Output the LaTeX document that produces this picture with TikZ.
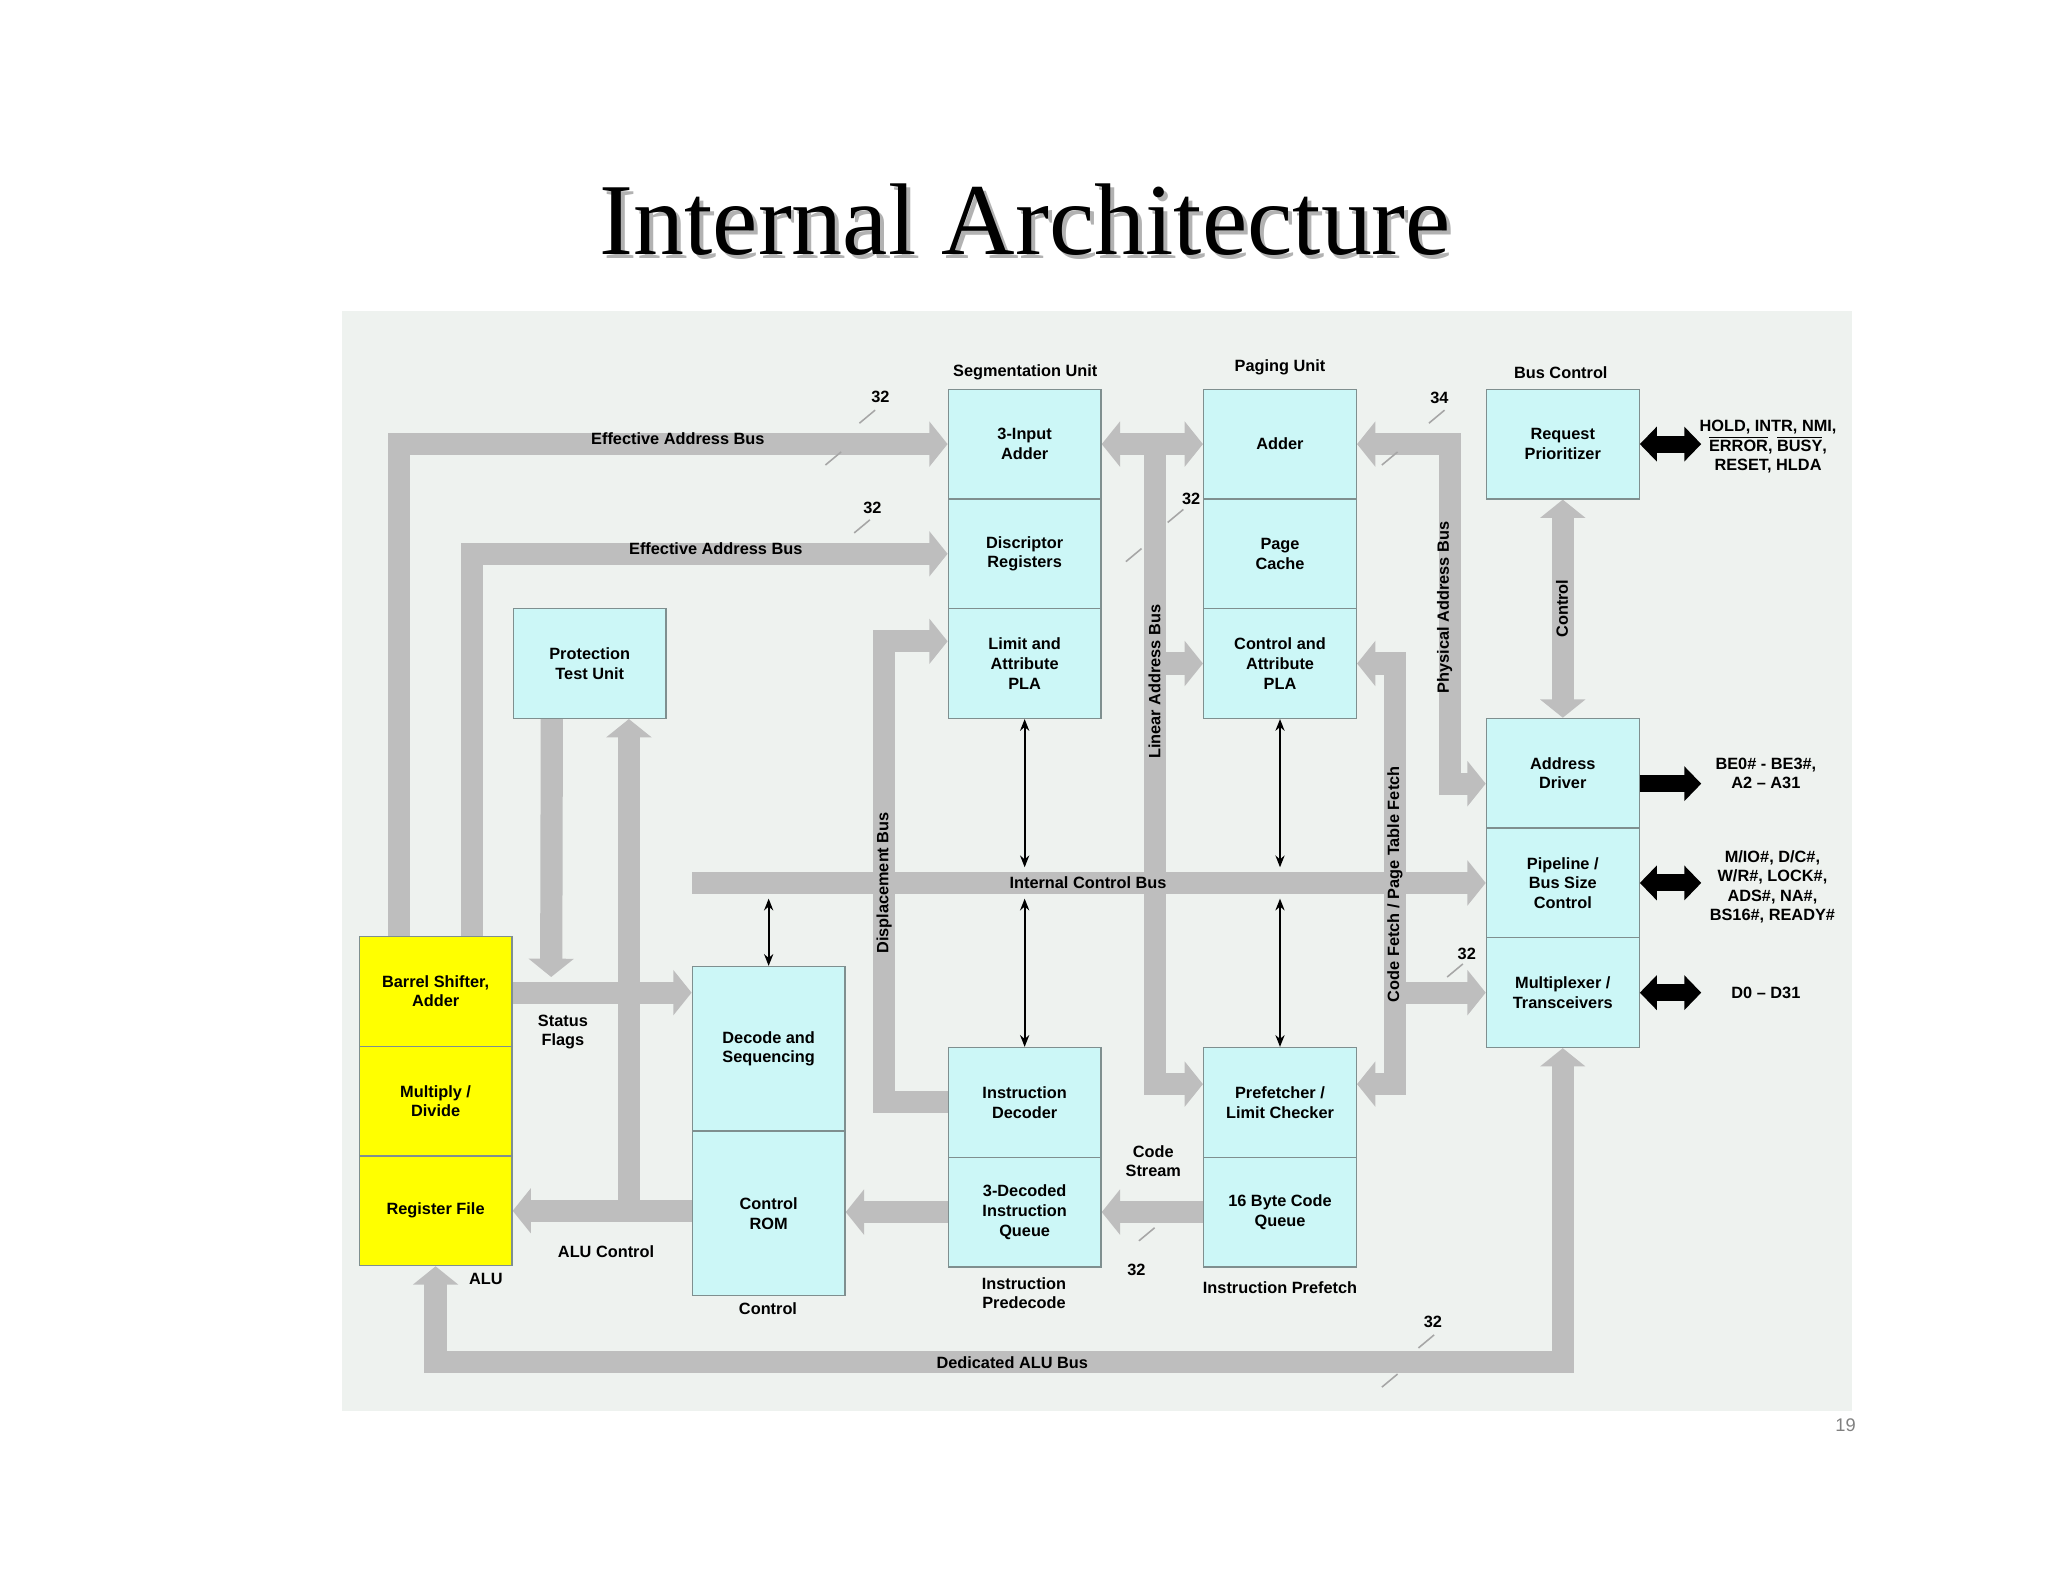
\documentclass[tikz,border=0pt]{standalone}
\usepackage{fontspec}
\setmainfont{Liberation Sans}
\newfontfamily\ser{Liberation Serif}
\usetikzlibrary{arrows.meta,calc}
\pgfdeclarelayer{back}\pgfdeclarelayer{bg}
\pgfsetlayers{back,bg,main}
\definecolor{panel}{HTML}{EEF2EF}
\definecolor{cyanbox}{HTML}{CCF7F7}
\definecolor{boxborder}{HTML}{7F8F8F}
\definecolor{busgray}{HTML}{BEBEBE}
\definecolor{yel}{HTML}{FFFF00}
\newcommand{\lab}{\fontsize{12.5}{15}\selectfont\bfseries}
\newcommand{\ovl}[1]{\leavevmode\vbox{\hrule height .9pt\kern1.2pt\hbox{#1}}}
\tikzset{
 T/.tip={Triangle[width=34pt,length=14pt]},
 B/.tip={Triangle[width=26pt,length=13pt]},
 bus/.style={line width=17pt,draw=busgray},
 cell/.style={draw=boxborder,fill=cyanbox,line width=1pt,minimum width=117pt,minimum height=84pt,align=center,inner sep=1pt,font=\lab},
 ycell/.style={cell,fill=yel},
 tcell/.style={cell,minimum height=126pt},
 lbl/.style={font=\lab,align=center,inner sep=1pt},
 rlbl/.style={lbl,rotate=90},
 thin/.style={line width=1.6pt,{Stealth[length=9pt,width=7pt]}-{Stealth[length=9pt,width=7pt]}},
 ext/.style={line width=13pt},
 slash/.style={draw=gray!70,line width=1.2pt},
}
\begin{document}
\begin{tikzpicture}[x=1pt,y=-1pt]
\useasboundingbox (0,0) rectangle (1568,1211);
\begin{pgfonlayer}{back}
\fill[white] (0,0) rectangle (1568,1211);
\fill[panel] (262,238) rectangle (1418,1080);
\end{pgfonlayer}
\node[font=\ser\fontsize{78}{80}\selectfont,text=gray!60] at (788,171) {Internal Architecture};
\node[font=\ser\fontsize{78}{80}\selectfont] (title) at (785,168) {Internal Architecture};
\node[text=gray,font=\fontsize{14}{16}\selectfont] (pg) at (1413,1091) {19};
% boxes
\node[cell] (sadd) at (784.5,340) {3-Input\\Adder};
\node[cell] (sdesc) at (784.5,424) {Discriptor\\Registers};
\node[cell] (slim) at (784.5,508) {Limit and\\Attribute\\PLA};
\node[cell] (padd) at (980,340) {Adder};
\node[cell] (pcache) at (980,424) {Page\\Cache};
\node[cell] (pcap) at (980,508) {Control and\\Attribute\\PLA};
\node[cell] (req) at (1196.5,340) {Request\\Prioritizer};
\node[cell] (addr) at (1196.5,592) {Address\\Driver};
\node[cell] (pipe) at (1196.5,676) {Pipeline /\\Bus Size\\Control};
\node[cell] (mux) at (1196.5,760) {Multiplexer /\\Transceivers};
\node[cell] (prot) at (451.5,508) {Protection\\Test Unit};
\node[ycell] (barrel) at (333.5,759) {Barrel Shifter,\\Adder};
\node[ycell] (mult) at (333.5,843) {Multiply /\\Divide};
\node[ycell] (reg) at (333.5,927) {Register File};
\node[tcell] (dec) at (588.5,803) {Decode and\\Sequencing};
\node[tcell] (rom) at (588.5,929) {Control\\ROM};
\node[cell] (idec) at (784.5,844) {Instruction\\Decoder};
\node[cell] (dq) at (784.5,928) {3-Decoded\\Instruction\\Queue};
\node[cell] (pref) at (980,844) {Prefetcher /\\Limit Checker};
\node[cell] (bq) at (980,928) {16 Byte Code\\Queue};
% buses
\begin{pgfonlayer}{bg}
\draw[bus,-T] ([xshift=-28pt]barrel.north) |- (sadd.west);
\draw[bus,-T] ([xshift=28pt]barrel.north) |- (sdesc.west);
\coordinate (protend) at (422,748);
\draw[bus,-T] ([xshift=-29pt]prot.south) -- (protend);
\draw[bus,-T] ([xshift=30pt]prot.south |- reg.east) -- ([xshift=30pt]prot.south);
\draw[bus,-T] (barrel.east |- 0,760) -- (dec.west |- 0,760);
\draw[bus,-T] (rom.west |- 0,927) -- (reg.east);
\draw[bus,-T] (dq.west) -- (rom.east |- dq.west);
\draw[bus,-T] (bq.west) -- (dq.east);
\draw[bus,-T] (idec.west) -- (677,844) -- (677,491) -- ([yshift=17pt]slim.west);
\draw[bus,T-T] (sadd.east) -- (padd.west);
\draw[bus,-T] (884,340) -- (884,830) -- ([yshift=14pt]pref.west);
\draw[bus,-T] (884,508) -- (pcap.west);
\draw[bus,T-T] (padd.east) -- (1110,340) -- (1110,600) -- ([yshift=-8pt]addr.west);
\draw[bus,T-T] (pcap.east) -- (1068,508) -- (1068,830) -- ([yshift=14pt]pref.east);
\draw[bus,-T] (1068,760) -- (mux.west);
\draw[bus,-T] (530,676) -- (pipe.west);
\draw[bus,T-T] (req.south) -- (addr.north);
\draw[bus,T-T] (mux.south) -- (1196.5,1043) -- (333.5,1043) -- (reg.south);
\end{pgfonlayer}
% thin arrows
\draw[thin] (slim.south) -- (784.5,664);
\draw[thin] (784.5,688) -- (idec.north);
\draw[thin] (pcap.south) -- (980,664);
\draw[thin] (980,688) -- (pref.north);
\draw[thin] (588.5,688) -- (dec.north);
% external
\draw[ext,B-B] (req.east) -- ++(47,0) coordinate (e1);
\draw[ext,-B] ([yshift=-8pt]addr.east) -- ++(47,0) coordinate (e2);
\draw[ext,B-B] (pipe.east) -- ++(47,0) coordinate (e3);
\draw[ext,B-B] (mux.east) -- ++(47,0) coordinate (e4);
\node[lbl,anchor=west] at (1300,342) {HOLD, INTR, NMI,\\\ovl{ERROR}, \ovl{BUSY},\\RESET, HLDA};
\node[lbl] at (1352,592) {BE0\# - BE3\#,\\A2 -- A31};
\node[lbl] at (1357,679) {M/IO\#, D/C\#,\\W/R\#, LOCK\#,\\ADS\#, NA\#,\\BS16\#, READY\#};
\node[lbl] at (1352,760) {D0 -- D31};
% labels
\node[lbl] at (785,285) {Segmentation Unit};
\node[lbl] at (980,281) {Paging Unit};
\node[lbl] at (1195,285) {Bus Control};
\node[lbl] at (431,790) {Status\\Flags};
\node[lbl] at (464,958) {ALU Control};
\node[lbl] at (372,979) {ALU};
\node[lbl] at (588,1002) {Control};
\node[lbl] at (784,990) {Instruction\\Predecode};
\node[lbl] at (980,986) {Instruction Prefetch};
\node[lbl] at (883,889) {Code\\Stream};
\node[lbl] at (775,1043) {Dedicated ALU Bus};
\node[lbl] at (833,676) {Internal Control Bus};
\node[lbl] at (519,336) {Effective Address Bus};
\node[lbl] at (548,420) {Effective Address Bus};
\node[rlbl] at (677,676) {Displacement Bus};
\node[rlbl] at (884,522) {Linear Address Bus};
\node[rlbl] at (1106,465) {Physical Address Bus};
\node[rlbl] at (1068,677) {Code Fetch / Page Table Fetch};
\node[rlbl] at (1196,466) {Control};
% widths
\node[lbl] at (674,304) {32};
\node[lbl] at (668,389) {32};
\node[lbl] at (912,382) {32};
\node[lbl] at (1102,305) {34};
\node[lbl] at (1123,730) {32};
\node[lbl] at (870,972) {32};
\node[lbl] at (1097,1012) {32};
\draw[slash] (658,324) -- (670,314);
\draw[slash] (632,356) -- (644,346);
\draw[slash] (654,408) -- (666,398);
\draw[slash] (862,430) -- (874,420);
\draw[slash] (894,400) -- (906,390);
\draw[slash] (1094,324) -- (1106,314);
\draw[slash] (1058,356) -- (1070,346);
\draw[slash] (1108,748) -- (1120,738);
\draw[slash] (872,950) -- (884,940);
\draw[slash] (1086,1032) -- (1098,1022);
\draw[slash] (1058,1062) -- (1070,1052);
\end{tikzpicture}
\end{document}
